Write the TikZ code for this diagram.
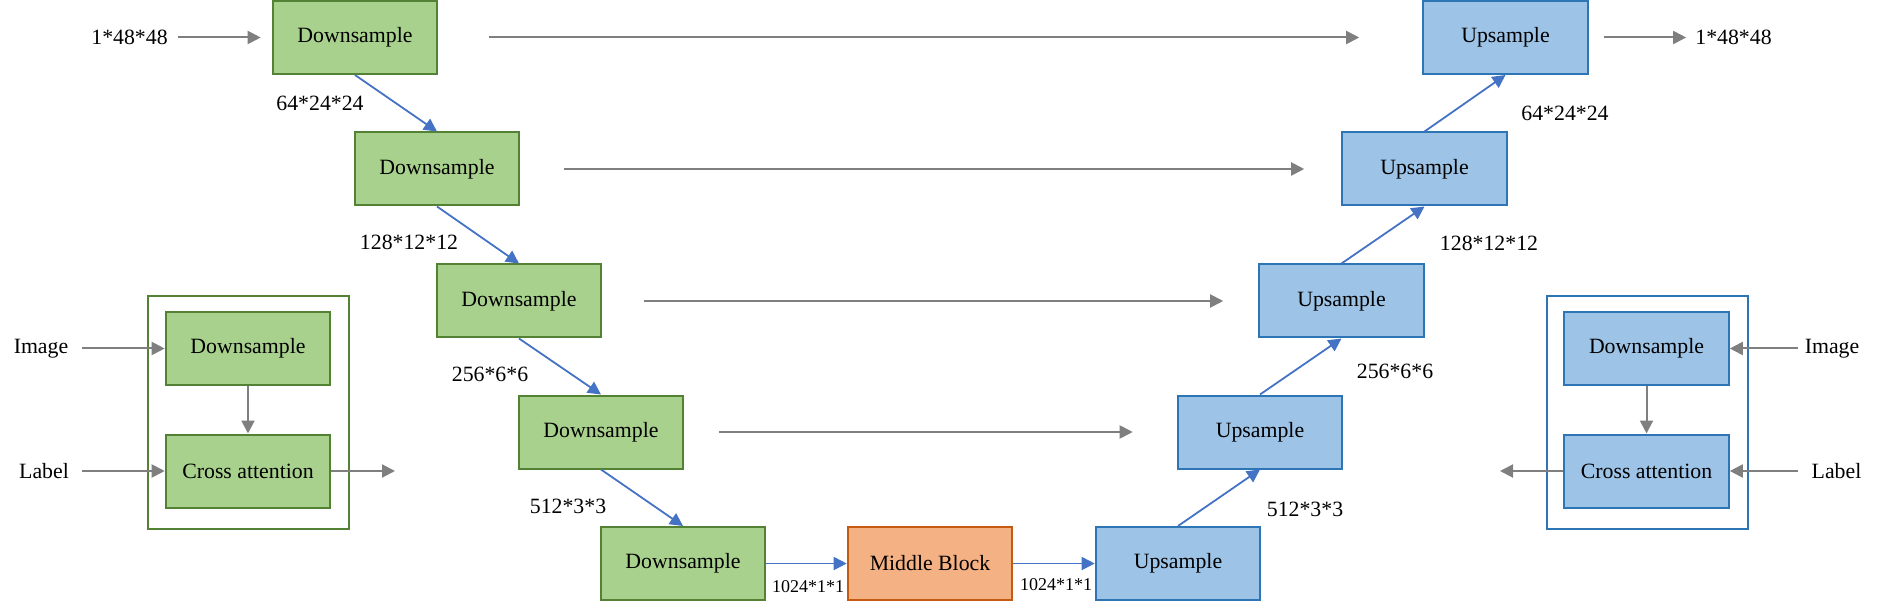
\documentclass[tikz,border=0pt]{standalone}
\usepackage{fontspec}
\setmainfont{Liberation Serif}
\usetikzlibrary{arrows.meta}
\definecolor{gfill}{HTML}{A9D18E}
\definecolor{gline}{HTML}{548235}
\definecolor{bfill}{HTML}{9DC3E6}
\definecolor{bline}{HTML}{2E75B6}
\definecolor{ofill}{HTML}{F4B183}
\definecolor{oline}{HTML}{C55A11}
\definecolor{garrow}{HTML}{7F7F7F}
\definecolor{barrow}{HTML}{4472C4}
\tikzset{
  blk/.style={minimum width=164.6pt, minimum height=73pt, inner sep=0pt, line width=2pt,
    font=\fontsize{21.8}{26}\selectfont},
  dn/.style={blk, draw=gline, fill=gfill},
  up/.style={blk, draw=bline, fill=bfill},
  mid/.style={blk, draw=oline, fill=ofill},
  frm/.style={minimum width=201pt, minimum height=233pt, inner sep=0pt, line width=2pt},
  txt/.style={inner sep=0pt, font=\fontsize{21.8}{26}\selectfont},
  stxt/.style={inner sep=0pt, font=\fontsize{18}{22}\selectfont},
  garr/.style={draw=garrow, line width=2pt, -{Triangle[length=13pt,width=13pt]}, fill=garrow},
  barr/.style={draw=barrow, line width=1.8pt, -{Triangle[length=13pt,width=13pt]}, fill=barrow},
}
\begin{document}
\begin{tikzpicture}[x=1pt,y=-1pt]
\useasboundingbox (0,0) rectangle (1881,609);
% encoder
\node[dn] (d1) at (355,37.5) {Downsample};
\node[dn] (d2) at (437,169) {Downsample};
\node[dn] (d3) at (519,301) {Downsample};
\node[dn] (d4) at (601,432) {Downsample};
\node[dn] (d5) at (683,563.5) {Downsample};
\node[mid] (m) at (930,563.5) {Middle Block};
% decoder
\node[up] (u5) at (1178,563.5) {Upsample};
\node[up] (u4) at (1260,432) {Upsample};
\node[up] (u3) at (1341.5,301) {Upsample};
\node[up] (u2) at (1424.5,169) {Upsample};
\node[up] (u1) at (1505.5,37.5) {Upsample};
% down arrows
\draw[barr] (d1.south) -- (d2.north);
\draw[barr] (d2.south) -- (d3.north);
\draw[barr] (d3.south) -- (d4.north);
\draw[barr] (d4.south) -- (d5.north);
\draw[barr] (d5.east) -- (m.west);
\draw[barr] (m.east) -- (u5.west);
\draw[barr] (u5.north) -- (u4.south);
\draw[barr] (u4.north) -- (u3.south);
\draw[barr] (u3.north) -- (u2.south);
\draw[barr] (u2.north) -- (u1.south);
% skip connections
\draw[garr, shorten <=51pt, shorten >=63pt] (d1.east) -- (u1.west);
\draw[garr, shorten <=44pt, shorten >=37pt] (d2.east) -- (u2.west);
\draw[garr, shorten <=42pt, shorten >=35pt] (d3.east) -- (u3.west);
\draw[garr, shorten <=35pt, shorten >=44pt] (d4.east) -- (u4.west);
% input / output
\node[txt] (in) at (129.5,37.5) {1*48*48};
\node[txt] (out) at (1733.5,37.5) {1*48*48};
\draw[garr, shorten <=10pt, shorten >=11pt] (in.east) -- (d1.west);
\draw[garr, shorten <=15pt, shorten >=9pt] (u1.east) -- (out.west);
% shape labels
\node[txt] (l1) at (320,103) {64*24*24};
\node[txt] (l2) at (409,242) {128*12*12};
\node[txt] (l3) at (490,374) {256*6*6};
\node[txt] (l4) at (568,506) {512*3*3};
\node[txt] (r1) at (1565,113) {64*24*24};
\node[txt] (r2) at (1489,243) {128*12*12};
\node[txt] (r3) at (1395,371) {256*6*6};
\node[txt] (r4) at (1305,509) {512*3*3};
\node[stxt] (c1) at (808,587) {1024*1*1};
\node[stxt] (c2) at (1056,585) {1024*1*1};
% left module
\node[frm, draw=gline] (lf) at (248.5,412.5) {};
\node[dn] (ld) at (248,348.5) {Downsample};
\node[dn] (lc) at (248,471) {Cross attention};
\node[txt] (limg) at (41,348.5) {Image};
\node[txt] (llab) at (44,471) {Label};
\coordinate (lout) at (395,471);
\draw[garr, shorten <=14pt] (limg.east) -- (ld.west);
\draw[garr, shorten <=13pt] (llab.east) -- (lc.west);
\draw[garr] (ld.south) -- (lc.north);
\draw[garr] (lc.east) -- (lout);
% right module
\node[frm, draw=bline] (rf) at (1647.5,412.5) {};
\node[up] (rd) at (1646.5,348.5) {Downsample};
\node[up] (rc) at (1646.5,471) {Cross attention};
\node[txt] (rimg) at (1832,348.5) {Image};
\node[txt] (rlab) at (1836.5,471) {Label};
\coordinate (rout) at (1500,471);
\draw[garr, shorten <=7pt] (rimg.west) -- (rd.east);
\draw[garr, shorten <=14pt] (rlab.west) -- (rc.east);
\draw[garr] (rd.south) -- (rc.north);
\draw[garr] (rc.west) -- (rout);
\end{tikzpicture}
\end{document}
